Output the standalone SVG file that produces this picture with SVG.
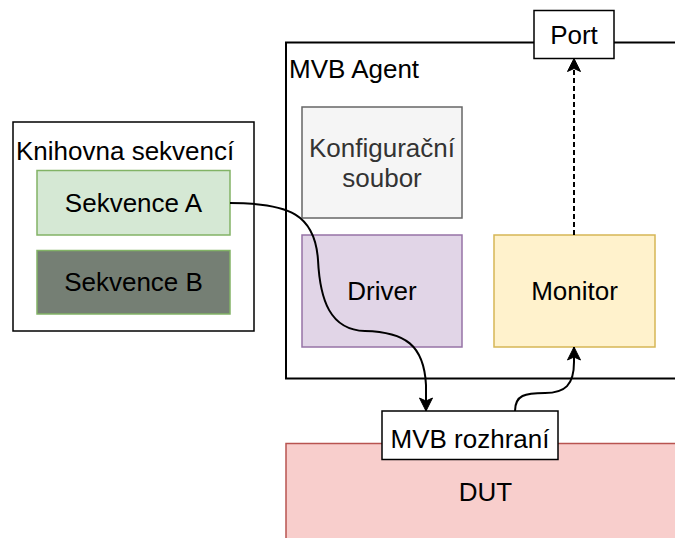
<svg xmlns="http://www.w3.org/2000/svg" width="675" height="538" viewBox="0 0 675 538">
  <style>
    text { font-family: "Liberation Sans", Arial, Helvetica, sans-serif; font-size: 26px; fill: #000; }
    .mid { text-anchor: middle; }
    .box { stroke-width: 1.5; }
    .edge { fill: none; stroke: #000; stroke-width: 2; }
    .dash { stroke-dasharray: 5 3; }
  </style>
  <defs>
    <marker id="arrow" markerUnits="userSpaceOnUse" markerWidth="16" markerHeight="16" viewBox="-14 -8 16 16" refX="0" refY="0" orient="auto">
      <path d="M0,0 L-13,-6.5 L-10,0 L-13,6.5 Z" fill="#000" stroke="#000" stroke-width="1"/>
    </marker>
  </defs>

  <!-- sequence library container -->
  <g id="knihovna">
    <rect x="13" y="122" width="241" height="209" fill="#fff" stroke="#000" class="box"/>
    <text x="16" y="160">Knihovna sekvencí</text>
  </g>
  <g id="sekvence-a">
    <rect x="37" y="170.5" width="193" height="64.5" fill="#d5e8d4" stroke="#82b366" class="box"/>
    <text x="133.5" y="211.5" class="mid">Sekvence A</text>
  </g>
  <g id="sekvence-b">
    <rect x="37" y="250.5" width="193" height="63.5" fill="#757f74" stroke="#82b366" class="box"/>
    <text x="133.5" y="291" class="mid">Sekvence B</text>
  </g>

  <!-- device under test -->
  <g id="dut">
    <rect x="286" y="443.5" width="400" height="110" fill="#f8cecc" stroke="#b85450" class="box"/>
    <text x="485.5" y="500.5" class="mid">DUT</text>
  </g>

  <!-- agent container -->
  <g id="mvb-agent">
    <rect x="286" y="42.5" width="400" height="336" fill="#fff" stroke="#000" stroke-width="2"/>
    <text x="289" y="77.5">MVB Agent</text>
  </g>
  <g id="konfigurace">
    <rect x="302" y="107" width="160" height="111" fill="#f5f5f5" stroke="#666666" class="box"/>
    <text x="382" y="157" class="mid" style="fill:#333333">Konfigurační</text>
    <text x="382" y="186.5" class="mid" style="fill:#333333">soubor</text>
  </g>
  <g id="driver">
    <rect x="302" y="235" width="160" height="112" fill="#e1d5e7" stroke="#9673a6" class="box"/>
    <text x="382" y="299.5" class="mid">Driver</text>
  </g>
  <g id="monitor">
    <rect x="494" y="235" width="161" height="112" fill="#fff2cc" stroke="#d6b656" class="box"/>
    <text x="574.5" y="299.5" class="mid">Monitor</text>
  </g>
  <g id="port">
    <rect x="534" y="10.5" width="80" height="48" fill="#fff" stroke="#000" class="box"/>
    <text x="574" y="44" class="mid">Port</text>
  </g>
  <g id="mvb-rozhrani">
    <rect x="382" y="411" width="176" height="48.5" fill="#fff" stroke="#000" class="box"/>
    <text x="470" y="447.5" class="mid">MVB rozhraní</text>
  </g>

  <!-- connectors -->
  <g id="connectors">
    <path class="edge" d="M230,203 C290,203 315,215 318,260 C320,300 330,330 365,331 C405,332 424,345 426,385 L426,411" marker-end="url(#arrow)"/>
    <path class="edge" d="M515,411 C515,395 525,393 545,393 C565,393 574,385 574,362 L574,347" marker-end="url(#arrow)"/>
    <path class="edge dash" d="M574,235 L574,58.5" marker-end="url(#arrow)"/>
  </g>
</svg>
